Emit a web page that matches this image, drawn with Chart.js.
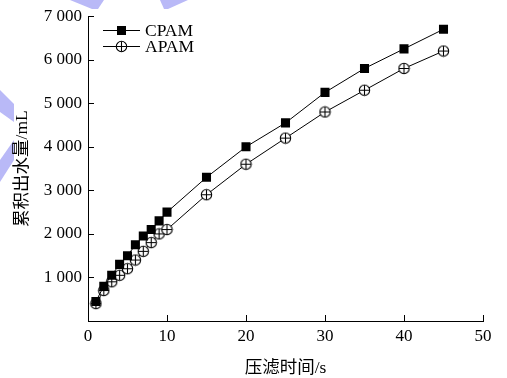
<!DOCTYPE html>
<html><head><meta charset="utf-8">
<script src="https://cdn.jsdelivr.net/npm/chart.js@4/dist/chart.umd.min.js"></script>
<style>html,body{margin:0;padding:0;background:#fff}#wrap{width:507px;height:378px}</style>
</head><body><div id="wrap"><canvas id="c" width="507" height="378"></canvas></div>
<script>
const times = [1,2,3,4,5,6,7,8,9,10,15,20,25,30,35,40,45];
const cpam = [450,800,1050,1300,1500,1750,1950,2100,2300,2500,3300,4000,4550,5250,5800,6250,6700];
const apam = [400,700,900,1050,1200,1400,1600,1800,2000,2100,2900,3600,4200,4800,5300,5800,6200];
const xTicks = [0,10,20,30,40,50];
const yTicks = [1000,2000,3000,4000,5000,6000,7000];
const seriesNames = ['CPAM','APAM'];
const xTitle = '压滤时间/s';
const yTitle = '累积出水量/mL';

const FONT = '"Liberation Serif","Times New Roman","Noto Sans CJK SC",serif';

function circlePlus(){
  const s = 13, c = document.createElement('canvas');
  c.width = s; c.height = s;
  const g = c.getContext('2d');
  g.fillStyle = '#fff'; g.strokeStyle = '#000'; g.lineWidth = 1.1;
  g.beginPath(); g.arc(6.5,6.5,5.2,0,Math.PI*2); g.fill(); g.stroke();
  g.beginPath(); g.moveTo(1.5,6.5); g.lineTo(11.5,6.5); g.moveTo(6.5,1.5); g.lineTo(6.5,11.5); g.stroke();
  return c;
}
const cp = circlePlus();

const deco = {
  id:'deco',
  beforeDraw(chart){
    const ctx = chart.ctx; ctx.save();
    ctx.fillStyle = '#b9b9f7';
    const polys = [
      [[70,0],[104,0],[98,9],[92,9]],
      [[160,0],[188,0],[168,9],[164,9]],
      [[0,90],[14,104],[14,122],[0,112]],
      [[0,160],[14,140],[14,160],[0,182]]
    ];
    polys.forEach(p=>{ctx.beginPath();ctx.moveTo(p[0][0],p[0][1]);for(let i=1;i<p.length;i++)ctx.lineTo(p[i][0],p[i][1]);ctx.closePath();ctx.fill();});
    ctx.restore();
  }
};

const ticksIn = {
  id:'ticksIn',
  afterDraw(chart){
    const ctx = chart.ctx, xs = chart.scales.x, ys = chart.scales.y, a = chart.chartArea;
    ctx.save(); ctx.strokeStyle='#000'; ctx.lineWidth=1;
    ctx.beginPath();
    xTicks.forEach(v=>{ if(v===0) return; const px=Math.round(xs.getPixelForValue(v))+0.5; ctx.moveTo(px,a.bottom); ctx.lineTo(px,a.bottom-6);});
    yTicks.forEach(v=>{ const py=Math.round(ys.getPixelForValue(v))+0.5; ctx.moveTo(a.left,py); ctx.lineTo(a.left+6,py);});
    ctx.stroke();
    // legend
    const lx = 103, ly = [30,46];
    chart.data.datasets.forEach((ds,i)=>{
      ctx.strokeStyle='#000'; ctx.lineWidth=1;
      ctx.beginPath(); ctx.moveTo(lx,ly[i]+0.5); ctx.lineTo(lx+37,ly[i]+0.5); ctx.stroke();
      const cx = lx+18.5;
      if(i===0){ ctx.fillStyle='#000'; ctx.fillRect(cx-4.5,ly[i]-4,9,9); }
      else { ctx.drawImage(cp, Math.round(cx-6.5), ly[i]-6); }
      ctx.fillStyle='#000'; ctx.font='17.5px '+FONT; ctx.textBaseline='middle'; ctx.textAlign='left';
      ctx.fillText(ds.label, lx+42, ly[i]+1);
    });
    ctx.restore();
  }
};

new Chart(document.getElementById('c'),{
  type:'line',
  data:{datasets:[
    {label:seriesNames[0], data:times.map((t,i)=>({x:t,y:cpam[i]})), borderColor:'#000', borderWidth:1, backgroundColor:'#000', pointStyle:'rect', pointRadius:6.4, pointBorderWidth:0, tension:0},
    {label:seriesNames[1], data:times.map((t,i)=>({x:t,y:apam[i]})), borderColor:'#000', borderWidth:1, backgroundColor:'#fff', pointStyle:cp, pointRadius:6, tension:0}
  ]},
  options:{
    responsive:false, animation:false,
    layout:{padding:{top:15,right:24,left:0,bottom:0}},
    plugins:{legend:{display:false},tooltip:{enabled:false}},
    scales:{
      x:{type:'linear',min:0,max:50,
        afterBuildTicks(s){s.ticks=xTicks.map(v=>({value:v}));},
        afterFit(s){s.height=57;},
        grid:{display:true,drawOnChartArea:false,drawTicks:false},
        border:{display:true,color:'#000',width:1},
        ticks:{color:'#000',padding:5,font:{family:FONT,size:17},maxRotation:0},
        title:{display:true,text:xTitle,color:'#000',font:{family:FONT,size:17.5},padding:{top:0,bottom:-1}}
      },
      y:{type:'linear',min:0,max:7000,
        afterBuildTicks(s){s.ticks=yTicks.map(v=>({value:v}));},
        afterFit(s){s.width=88;},
        grid:{display:true,drawOnChartArea:false,drawTicks:false},
        border:{display:true,color:'#000',width:1},
        ticks:{color:'#000',padding:6,font:{family:FONT,size:17},
          callback:v=>String(v).replace(/\B(?=(\d{3})+(?!\d))/g,' ')},
        title:{display:true,text:yTitle,color:'#000',font:{family:FONT,size:17.5},padding:{top:12,bottom:0}}
      }
    }
  },
  plugins:[deco,ticksIn]
});
</script></body></html>
